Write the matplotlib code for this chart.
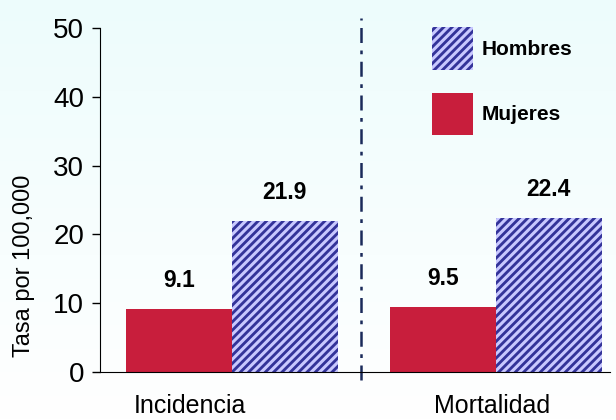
import numpy as np
import matplotlib.pyplot as plt
from matplotlib.patches import Patch

categories = ["Incidencia", "Mortalidad"]
mujeres = [9.1, 9.5]
hombres = [21.9, 22.4]
yticks = [0, 10, 20, 30, 40, 50]

plt.rcParams['font.family'] = ['Liberation Sans', 'DejaVu Sans']
plt.rcParams['hatch.linewidth'] = 2.2
plt.rcParams['hatch.color'] = '#c8c8ff'

fig = plt.figure(figsize=(6.16, 4.2), dpi=100)

# light cyan to white background
bg = fig.add_axes([0, 0, 1, 1], zorder=-1)
grad = np.linspace(0, 1, 256).reshape(-1, 1)
top = np.array([0.93, 0.99, 0.99])
bot = np.array([1.0, 1.0, 1.0])
img = top + (bot - top) * grad[:, :, None]
bg.imshow(img, aspect='auto', extent=[0, 1, 0, 1])
bg.axis('off')

ax = fig.add_axes([100 / 616, 48 / 420, 510 / 616, 344 / 420])
ax.patch.set_alpha(0)

x = np.arange(len(categories))
w = 0.4
b1 = ax.bar(x - w / 2, mujeres, w, color='#c81e3c', linewidth=0, label='Mujeres')
b2 = ax.bar(x + w / 2, hombres, w, color='#333399', edgecolor='#c8c8ff',
            hatch='////', linewidth=0, label='Hombres')

for bars, vals in [(b1, mujeres), (b2, hombres)]:
    for r, v in zip(bars, vals):
        ax.annotate(f"{v}", (r.get_x() + r.get_width() / 2, v),
                    xytext=(0, 20.5), textcoords='offset points',
                    ha='center', va='center', fontsize=16.5, fontweight='bold')

# separator between groups
ax.plot([0.489, 0.489], [-1.2, 51.5], color='#1a2a5a', lw=1.8,
        linestyle=(0, (6, 3, 1.5, 3)), clip_on=False)

ax.set_xlim(-0.5, 1.432)
ax.set_ylim(0, 50)
ax.set_yticks(yticks)
ax.tick_params(axis='y', labelsize=20, length=5.5, width=1, direction='out', pad=6)
ax.set_xticks([-0.16, 0.985])
ax.set_xticklabels(categories, fontsize=18)
ax.tick_params(axis='x', length=0, pad=16)
ax.set_ylabel("Tasa por 100,000", fontsize=17)
ax.yaxis.set_label_coords(-0.127, 0.308)
ax.spines['top'].set_visible(False)
ax.spines['right'].set_visible(False)

handles = [Patch(facecolor='#333399', edgecolor='#c8c8ff', hatch='////', linewidth=0, label='Hombres'),
           Patch(facecolor='#c81e3c', linewidth=0, label='Mujeres')]
ax.legend(handles=handles, loc='upper left', bbox_to_anchor=(432 / 616, 1 - 27 / 420),
          bbox_transform=fig.transFigure, frameon=False, borderpad=0, borderaxespad=0,
          handlelength=1.97, handleheight=2.78, labelspacing=1.1, handletextpad=0.43,
          prop={'size': 15, 'weight': 'bold'})

fig.savefig("out.png", dpi=100)
